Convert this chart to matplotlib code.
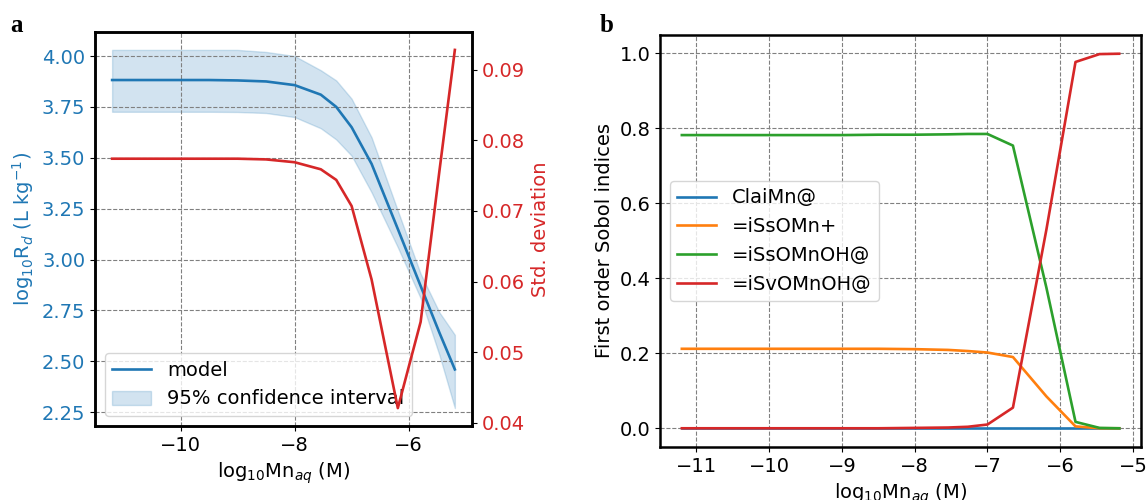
import matplotlib
matplotlib.use('Agg')
import matplotlib.pyplot as plt
import numpy as np

# log10 Mn_aq (M)
mn = [-11.2, -10.5, -10.0, -9.5, -9.0, -8.5, -8.0, -7.54, -7.27, -7.0,
      -6.65, -6.19, -5.79, -5.46, -5.19]

# panel a
model = [3.882, 3.882, 3.882, 3.882, 3.880, 3.875, 3.857, 3.81, 3.75, 3.65,
         3.47, 3.15, 2.87, 2.64, 2.46]
ci_upper = [4.03, 4.03, 4.03, 4.03, 4.03, 4.02, 4.00, 3.93, 3.88, 3.79,
            3.60, 3.24, 2.93, 2.74, 2.63]
ci_lower = [3.726, 3.726, 3.726, 3.726, 3.725, 3.72, 3.70, 3.645, 3.59, 3.51,
            3.33, 3.06, 2.81, 2.53, 2.27]
std_dev = [0.0774, 0.0774, 0.0774, 0.0774, 0.0774, 0.0773, 0.0769, 0.0759, 0.0744, 0.0707,
           0.0603, 0.0421, 0.0543, 0.0757, 0.0928]

# panel b, first order Sobol indices
species = ['ClaiMn@', '=iSsOMn+', '=iSsOMnOH@', '=iSvOMnOH@']
s_claimn = [0.0] * 15
s_ssomn = [0.212, 0.212, 0.212, 0.212, 0.212, 0.212, 0.211, 0.209, 0.206, 0.202,
           0.190, 0.085, 0.005, 0.0, 0.0]
s_ssomnoh = [0.782, 0.782, 0.782, 0.782, 0.782, 0.783, 0.783, 0.784, 0.785, 0.785,
             0.754, 0.375, 0.017, 0.001, 0.0]
s_svomnoh = [0.0, 0.0, 0.0, 0.0, 0.0, 0.0, 0.001, 0.002, 0.004, 0.010,
             0.055, 0.53, 0.977, 0.998, 0.999]

blue = '#1f77b4'
red = '#d62728'
fs = 14

plt.rcParams['font.size'] = fs
plt.rcParams['axes.linewidth'] = 1.8
plt.rcParams['lines.linewidth'] = 1.9

fig = plt.figure(figsize=(11.47, 5), dpi=100)

# ---- panel a
ax1 = fig.add_axes([0.0828, 0.148, 0.3287, 0.788])
ax1.plot(mn, model, color=blue, label='model')
ax1.fill_between(mn, ci_lower, ci_upper, color=blue, alpha=0.2,
                 label='95% confidence interval')
ax1.set_xlabel(r'log$_{10}$Mn$_{aq}$ (M)')
ax1.set_ylabel(r'log$_{10}$R$_{d}$ (L kg$^{-1}$)', color=blue)
ax1.tick_params(axis='y', labelcolor=blue)
ax1.set_xticks([-10, -8, -6])
ax1.set_yticks(np.arange(2.25, 4.01, 0.25))
ax1.grid(True, linestyle='--', color='grey', linewidth=0.8)
ax1.legend(loc='lower left', fontsize=fs)

ax2 = ax1.twinx()
ax2.plot(mn, std_dev, color=red)
ax2.set_ylabel('Std. deviation', color=red)
ax2.tick_params(axis='y', labelcolor=red)
ax2.set_yticks([0.04, 0.05, 0.06, 0.07, 0.08, 0.09])

# ---- panel b
ax3 = fig.add_axes([0.5754, 0.106, 0.4194, 0.824])
for vals, name in zip([s_claimn, s_ssomn, s_ssomnoh, s_svomnoh], species):
    ax3.plot(mn, vals, label=name)
ax3.set_xlabel(r'log$_{10}$Mn$_{aq}$ (M)')
ax3.set_ylabel('First order Sobol indices')
ax3.set_xticks(range(-11, -4))
ax3.grid(True, linestyle='--', color='grey', linewidth=0.8)
ax3.legend(loc='center left', fontsize=fs)

fig.text(0.009, 0.935, 'a', family='Liberation Serif', fontweight='bold', fontsize=18)
fig.text(0.523, 0.935, 'b', family='Liberation Serif', fontweight='bold', fontsize=18)

fig.savefig('out.png', dpi=100)
